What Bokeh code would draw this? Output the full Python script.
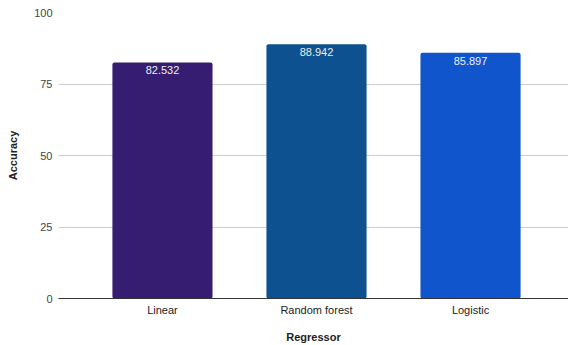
from bokeh.plotting import figure
from bokeh.models import Range1d, FixedTicker, ColumnDataSource
from bokeh.core.properties import value
from bokeh.embed import file_html
from bokeh.resources import INLINE

categories = ["Linear", "Random forest", "Logistic"]
accuracy = [82.532, 88.942, 85.897]
colors = ["#361D72", "#0E5190", "#1155CC"]
labels = ["82.532", "88.942", "85.897"]
y_ticks = [0, 25, 50, 75, 100]

xs = list(range(len(categories)))
src = ColumnDataSource(dict(x=xs, top=accuracy, color=colors, label=labels))

p = figure(width=568, height=345, output_backend="svg", toolbar_location=None,
           x_range=Range1d(-0.675, 2.636), y_range=Range1d(0, 100),
           min_border_left=58, min_border_right=0, min_border_top=12, min_border_bottom=47)
p.outline_line_color = None
p.background_fill_color = "white"
p.border_fill_color = "white"

p.vbar(x="x", top="top", width=0.65, bottom=0, fill_color="color", line_color=None,
       border_radius=2, source=src)
p.text(x="x", y="top", text="label", source=src, text_align="center", text_baseline="top",
       y_offset=4, text_color="#EEEEEE", text_font=value("Liberation Sans"), text_font_size="11px")

font = "Liberation Sans"
p.xaxis.ticker = FixedTicker(ticks=xs)
p.xaxis.major_label_overrides = {i: c for i, c in zip(xs, categories)}
p.xaxis.major_tick_line_color = None
p.xaxis.minor_tick_line_color = None
p.xaxis.major_tick_out = 0
p.xaxis.major_tick_in = 0
p.xaxis.minor_tick_out = 0
p.xaxis.axis_line_color = "#333333"
p.xaxis.axis_line_width = 1
p.xaxis.major_label_text_font = font
p.xaxis.major_label_text_font_size = "11px"
p.xaxis.major_label_text_color = "#222222"
p.xaxis.major_label_standoff = 5
p.xaxis.axis_label = "Regressor"
p.xaxis.axis_label_text_font = font
p.xaxis.axis_label_text_font_size = "11px"
p.xaxis.axis_label_text_font_style = "bold"
p.xaxis.axis_label_text_color = "#222222"
p.xaxis.axis_label_standoff = 12

p.yaxis.ticker = FixedTicker(ticks=y_ticks)
p.yaxis.major_tick_line_color = None
p.yaxis.minor_tick_line_color = None
p.yaxis.major_tick_out = 0
p.yaxis.major_tick_in = 0
p.yaxis.minor_tick_out = 0
p.yaxis.axis_line_color = None
p.yaxis.major_label_text_font = font
p.yaxis.major_label_text_font_size = "11px"
p.yaxis.major_label_text_color = "#444444"
p.yaxis.major_label_standoff = 6
p.yaxis.axis_label = "Accuracy"
p.yaxis.axis_label_text_font = font
p.yaxis.axis_label_text_font_size = "11px"
p.yaxis.axis_label_text_font_style = "bold"
p.yaxis.axis_label_text_color = "#222222"
p.yaxis.axis_label_standoff = 12

p.xgrid.grid_line_color = None
p.ygrid.grid_line_color = "#CCCCCC"
p.ygrid.grid_line_width = 1

open("out.html", "w").write(file_html(p, INLINE))
